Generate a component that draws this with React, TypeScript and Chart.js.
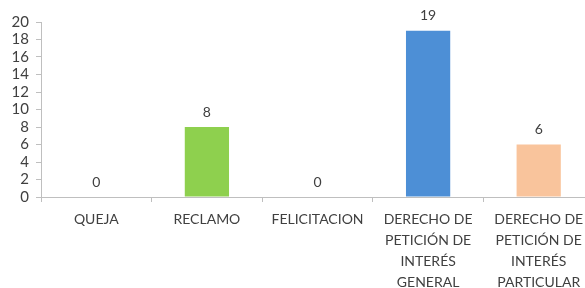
import React, { useEffect, useRef } from "react";
import { Chart, registerables } from "chart.js";

Chart.register(...registerables);

const categories: string[][] = [
  ["QUEJA"],
  ["RECLAMO"],
  ["FELICITACION"],
  ["DERECHO DE", "PETICIÓN DE", "INTERÉS", "GENERAL"],
  ["DERECHO DE", "PETICIÓN DE", "INTERÉS", "PARTICULAR"],
];
const values: number[] = [0, 8, 0, 19, 6];
const barColors: string[] = ["#8ED04E", "#8ED04E", "#8ED04E", "#4D8FD6", "#F9C49C"];
const yMin = 0;
const yMax = 20;
const yStep = 2;

const FONT = "Lato, 'Liberation Sans', sans-serif";

const valueLabels = {
  id: "valueLabels",
  afterDatasetsDraw(chart: any) {
    const ctx = chart.ctx;
    const meta = chart.getDatasetMeta(0);
    ctx.save();
    ctx.font = `14px ${FONT}`;
    ctx.fillStyle = "#404040";
    ctx.textAlign = "center";
    ctx.textBaseline = "bottom";
    meta.data.forEach((bar: any, i: number) => {
      ctx.fillText(String(values[i]), bar.x, bar.y - 8);
    });
    ctx.restore();
  },
};

export default function App() {
  const ref = useRef<HTMLCanvasElement | null>(null);
  useEffect(() => {
    document.body.style.overflow = "hidden";
    const chart = new Chart(ref.current as HTMLCanvasElement, {
      type: "bar",
      data: {
        labels: categories,
        datasets: [
          {
            data: values,
            backgroundColor: barColors,
            barPercentage: 0.4,
            categoryPercentage: 1,
          },
        ],
      },
      options: {
        animation: false,
        responsive: false,
        maintainAspectRatio: false,
        layout: { padding: { top: 22, right: 6, left: 0, bottom: 0 } },
        plugins: { legend: { display: false }, tooltip: { enabled: false } },
        scales: {
          x: {
            grid: {
              display: true,
              drawOnChartArea: false,
              offset: true,
              tickLength: 5,
              color: "#BFBFBF",
            },
            border: { color: "#BFBFBF" },
            ticks: {
              color: "#404040",
              font: { family: FONT, size: 14, lineHeight: 1.5 },
              padding: 7,
              maxRotation: 0,
              autoSkip: false,
            },
            afterFit(scale: any) {
              scale.height = 91;
            },
          },
          y: {
            min: yMin,
            max: yMax,
            grid: {
              display: true,
              drawOnChartArea: false,
              tickLength: 5,
              color: "#BFBFBF",
            },
            border: { color: "#BFBFBF" },
            ticks: {
              stepSize: yStep,
              autoSkip: false,
              color: "#404040",
              font: { family: FONT, size: 15, lineHeight: 1 },
              padding: 7,
            },
            afterFit(scale: any) {
              scale.width = 41;
            },
          },
        },
      },
      plugins: [valueLabels],
    });
    return () => chart.destroy();
  }, []);
  return (
    <div style={{ position: "fixed", left: 0, top: 0, width: 600, height: 288 }}>
      <canvas ref={ref} width={600} height={288} style={{ width: 600, height: 288, display: "block" }} />
    </div>
  );
}
